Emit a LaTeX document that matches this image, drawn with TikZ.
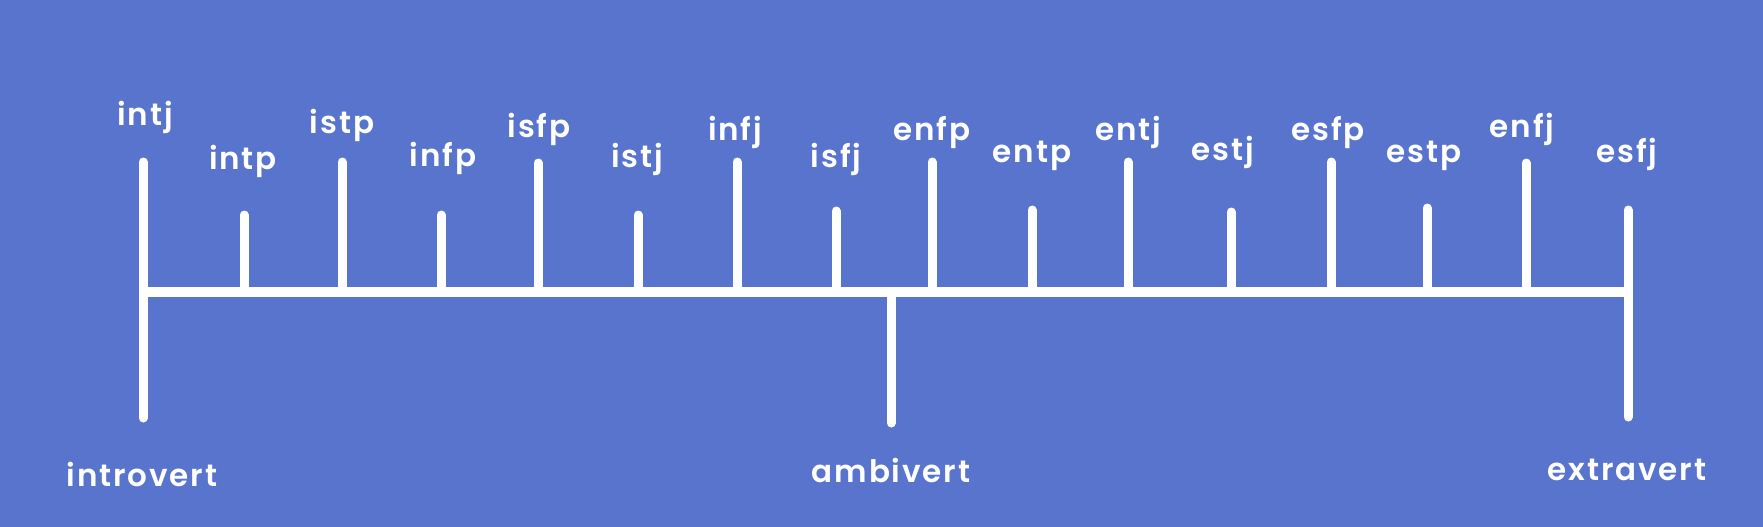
\documentclass[tikz,border=0pt]{standalone}
\usepackage{fontspec}
\setmainfont{Poppins}[BoldFont={Poppins SemiBold}, LetterSpace=6]
\definecolor{bgblue}{RGB}{88,116,204}
\tikzset{
  bar/.style={white, line width=9pt, line cap=round},
  lbl/.style={text=white, anchor=base, inner sep=0pt, font=\fontsize{31}{31}\selectfont\bfseries},
}
\begin{document}
\begin{tikzpicture}[x=1pt, y=-1pt]

  \fill[bgblue] (0,0) rectangle (1763,527);
  \useasboundingbox (0,0) rectangle (1763,527);

  % axis
  \coordinate (L) at (143,292);
  \coordinate (R) at (1628,292);
  \coordinate (M) at (891,292);
  \draw[bar, line width=10pt, line cap=butt] (L) -- (R);

  % ends and middle
  \coordinate (Lbot) at (143,418);
  \coordinate (Rbot) at (1628,417);
  \coordinate (Mbot) at (891,423);
  \draw[bar] (L) -- (Lbot);
  \draw[bar] (R) -- (Rbot);
  \draw[bar] (M) -- (Mbot);

  % ticks
  \coordinate (t0) at (143,162);   \draw[bar] (L) -- (t0);
  \coordinate (b1) at (244,292);   \coordinate (t1) at (244,215);   \draw[bar] (b1) -- (t1);
  \coordinate (b2) at (342,292);   \coordinate (t2) at (342,162);   \draw[bar] (b2) -- (t2);
  \coordinate (b3) at (441,292);   \coordinate (t3) at (441,215);   \draw[bar] (b3) -- (t3);
  \coordinate (b4) at (538,292);   \coordinate (t4) at (538,163);   \draw[bar] (b4) -- (t4);
  \coordinate (b5) at (638,292);   \coordinate (t5) at (638,215);   \draw[bar] (b5) -- (t5);
  \coordinate (b6) at (737,292);   \coordinate (t6) at (737,162);   \draw[bar] (b6) -- (t6);
  \coordinate (b7) at (836,292);   \coordinate (t7) at (836,211);   \draw[bar] (b7) -- (t7);
  \coordinate (b8) at (932,292);   \coordinate (t8) at (932,162);   \draw[bar] (b8) -- (t8);
  \coordinate (b9) at (1032,292);  \coordinate (t9) at (1032,210);  \draw[bar] (b9) -- (t9);
  \coordinate (b10) at (1128,292); \coordinate (t10) at (1128,162); \draw[bar] (b10) -- (t10);
  \coordinate (b11) at (1231,292); \coordinate (t11) at (1231,212); \draw[bar] (b11) -- (t11);
  \coordinate (b12) at (1331,292); \coordinate (t12) at (1331,162); \draw[bar] (b12) -- (t12);
  \coordinate (b13) at (1427,292); \coordinate (t13) at (1427,208); \draw[bar] (b13) -- (t13);
  \coordinate (b14) at (1526,292); \coordinate (t14) at (1526,163); \draw[bar] (b14) -- (t14);
  \coordinate (t15) at (1628,210); \draw[bar] (R) -- (t15);

  % type labels
  \node[lbl] (intj) at (145,125) {intj};
  \node[lbl] (intp) at (243,169) {intp};
  \node[lbl] (istp) at (342,133) {istp};
  \node[lbl] (infp) at (443,166) {infp};
  \node[lbl] (isfp) at (539,137) {isfp};
  \node[lbl] (istj) at (637,167) {istj};
  \node[lbl] (infj) at (735,140) {infj};
  \node[lbl] (isfj) at (836,167) {isfj};
  \node[lbl] (enfp) at (932,140) {enfp};
  \node[lbl] (entp) at (1032,162) {entp};
  \node[lbl] (entj) at (1128,140) {entj};
  \node[lbl] (estj) at (1223,160) {estj};
  \node[lbl] (esfp) at (1328,140) {esfp};
  \node[lbl] (estp) at (1424,162) {estp};
  \node[lbl] (enfj) at (1522,137) {enfj};
  \node[lbl] (esfj) at (1627,162) {esfj};

  % scale labels
  \node[lbl] (intro) at (142,486) {introvert};
  \node[lbl] (ambi) at (891,482) {ambivert};
  \node[lbl] (extra) at (1627,480) {extravert};

\end{tikzpicture}
\end{document}
